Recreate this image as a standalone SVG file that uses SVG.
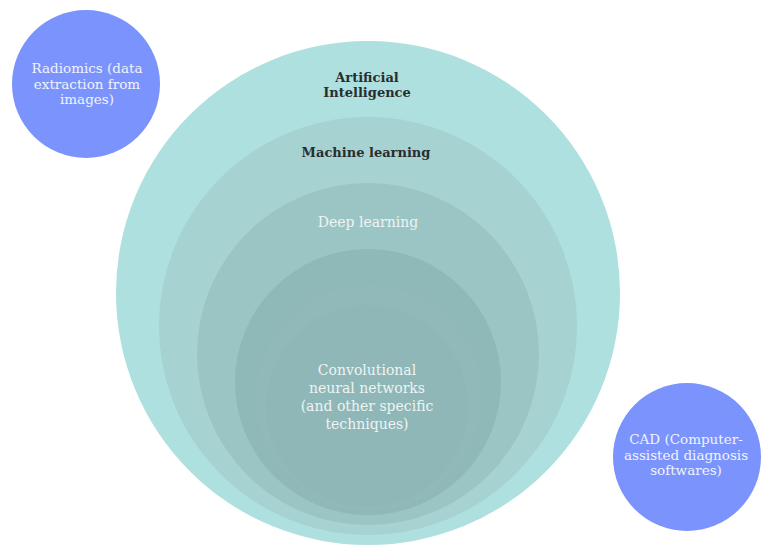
<svg xmlns="http://www.w3.org/2000/svg" width="769" height="557" viewBox="0 0 769 557">
  <style>
    text { font-family: "DejaVu Serif", "Liberation Serif", serif; text-anchor: middle; }
    .dark { fill: #2a2d2d; font-weight: bold; font-size: 13px; }
    .light { fill: #eef4f4; font-size: 14px; }
    .blue-t { fill: #f1f3ff; font-size: 13.5px; }
    .blue { fill: #7b93fc; }
  </style>
  <rect width="769" height="557" fill="#ffffff"/>
  <g id="connectors"/>
  <g id="ai">
    <circle cx="368" cy="293" r="252" fill="#aee0df"/>
    <text class="dark" x="367" y="82">Artificial</text>
    <text class="dark" x="367" y="97">Intelligence</text>
  </g>
  <g id="ml">
    <circle cx="368" cy="326" r="209" fill="#a6d2d2"/>
    <text class="dark" x="366" y="157">Machine learning</text>
  </g>
  <g id="dl">
    <circle cx="368" cy="354" r="171" fill="#9bc5c5"/>
    <text class="light" x="368" y="227">Deep learning</text>
  </g>
  <g id="cnn">
    <circle cx="368" cy="382" r="133" fill="#8fb8b8"/>
    <circle cx="369" cy="398" r="113" fill="#91b9b9"/>
    <circle cx="367" cy="406" r="101" fill="#8fb7b7"/>
    <text class="light" x="367" y="375">Convolutional</text>
    <text class="light" x="367" y="393">neural networks</text>
    <text class="light" x="367" y="411">(and other specific</text>
    <text class="light" x="367" y="429">techniques)</text>
  </g>
  <g id="radiomics">
    <circle class="blue" cx="86" cy="84" r="74"/>
    <text class="blue-t" x="87" y="73">Radiomics (data</text>
    <text class="blue-t" x="87" y="88.5">extraction from</text>
    <text class="blue-t" x="87" y="104">images)</text>
  </g>
  <g id="cad">
    <circle class="blue" cx="687" cy="457" r="74"/>
    <text class="blue-t" x="686" y="444">CAD (Computer-</text>
    <text class="blue-t" x="686" y="459.5">assisted diagnosis</text>
    <text class="blue-t" x="686" y="475">softwares)</text>
  </g>
</svg>
